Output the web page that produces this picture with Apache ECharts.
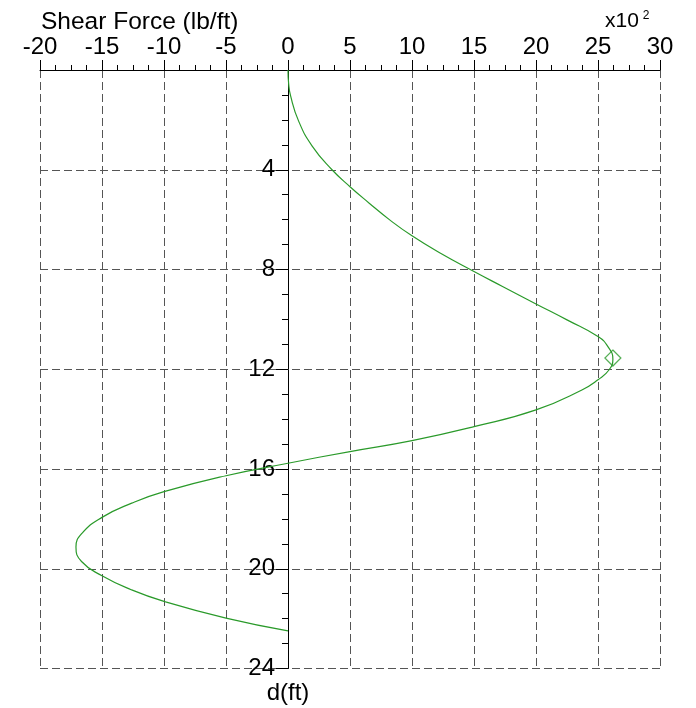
<!DOCTYPE html>
<html>
<head>
<meta charset="utf-8">
<script src="https://cdn.jsdelivr.net/npm/echarts@6/dist/echarts.min.js"></script>
<style>
  html, body { margin: 0; padding: 0; background: #fff; }
  #chart { width: 696px; height: 708px; }
</style>
</head>
<body>
<div id="chart"></div>
<script>
// Depth below the top (ft) and shear force (x100 lb/ft) along the member
const depth = [0, 0.53, 1.04, 2.04, 3.05, 4.0, 4.68, 5.34, 6.01, 6.65, 7.35, 8.08, 8.68, 9.38, 10.02, 10.69, 11.09, 11.6, 12.02, 12.42, 12.83, 13.63, 14.3, 14.86, 15.3, 15.77, 16.27, 16.91, 17.37, 17.94, 18.57, 19.13, 19.71, 20.28, 20.84, 21.31, 21.98, 22.49];
const shear = [0, 0.05, 0.21, 0.85, 1.95, 3.55, 5.0, 6.55, 8.2, 10.0, 12.3, 15.0, 17.3, 20.0, 22.5, 25.0, 25.8, 26.2, 25.9, 25.0, 23.7, 20.0, 15.0, 10.0, 5.0, 0, -5, -10, -12.6, -15, -16.6, -17.1, -16.65, -15, -12.65, -10, -5, 0];

// Peak marker (shear, depth)
const peakShear = [26.2];
const peakDepth = [11.55];

// Axis ranges and ticks
const shearTicks = { min: -20, max: 30, interval: 5 };
const depthTicks = { min: 0, max: 24, interval: 4 };

const FONT = 'Liberation Sans, Arial, sans-serif';
const GREEN = '#2a9a2a';

const GRID = { left: 40, right: 36, top: 70, bottom: 39.5 };
const plotWidth = 696 - GRID.left - GRID.right;
// the depth axis runs along the zero-shear line
const depthAxisOffset = -plotWidth * (0 - shearTicks.min) / (shearTicks.max - shearTicks.min);

const curve = depth.map((d, i) => [shear[i], d]);
const peak = peakDepth.map((d, i) => [peakShear[i], d]);

const chart = echarts.init(document.getElementById('chart'), null, { renderer: 'canvas' });

chart.setOption({
  backgroundColor: '#ffffff',
  animation: false,
  title: {
    text: 'Shear Force (lb/ft)',
    left: 41,
    top: 10,
    padding: 0,
    textStyle: { fontFamily: FONT, fontSize: 24.5, fontWeight: 'normal', color: '#000' }
  },
  graphic: [{
    type: 'text',
    left: 605,
    top: 10,
    style: {
      text: 'x10{s|2}',
      fontFamily: FONT,
      fontSize: 21,
      fill: '#000',
      rich: { s: { fontFamily: FONT, fontSize: 12, verticalAlign: 'top', padding: [0, 0, 10, 4] } }
    }
  }],
  grid: Object.assign({ containLabel: false }, GRID),
  xAxis: {
    type: 'value',
    position: 'top',
    min: shearTicks.min,
    max: shearTicks.max,
    interval: shearTicks.interval,
    axisLine: { show: true, onZero: false, lineStyle: { color: '#000', width: 1 } },
    axisTick: { show: true, length: 10, lineStyle: { color: '#000' } },
    minorTick: { show: true, splitNumber: 4, length: 5, lineStyle: { color: '#000' } },
    axisLabel: { fontFamily: FONT, fontSize: 24, color: '#000', margin: 11 },
    splitLine: { show: true, lineStyle: { color: '#555', type: [8, 4], width: 1 } }
  },
  yAxis: {
    type: 'value',
    position: 'left',
    offset: depthAxisOffset,
    inverse: true,
    min: depthTicks.min,
    max: depthTicks.max,
    interval: depthTicks.interval,
    name: 'd(ft)',
    nameLocation: 'end',
    nameGap: 13,
    nameTextStyle: { fontFamily: FONT, fontSize: 24, color: '#000', verticalAlign: 'top' },
    axisLine: { show: true, onZero: false, lineStyle: { color: '#000', width: 1 } },
    axisTick: { show: true, length: 12, lineStyle: { color: '#000' } },
    minorTick: { show: true, splitNumber: 4, length: 6, lineStyle: { color: '#000' } },
    axisLabel: {
      fontFamily: FONT, fontSize: 24, color: '#000', margin: 13,
      formatter: v => (v === 0 ? '' : String(v))
    },
    splitLine: { show: true, lineStyle: { color: '#555', type: [8, 4], width: 1 } }
  },
  series: [
    {
      type: 'line',
      data: curve,
      smooth: 0.5,
      showSymbol: false,
      lineStyle: { color: GREEN, width: 1.2 },
      z: 3
    },
    {
      type: 'scatter',
      data: peak,
      symbol: 'diamond',
      symbolSize: [16, 16],
      itemStyle: { color: 'rgba(0,0,0,0)', borderColor: GREEN, borderWidth: 1.2 },
      z: 4
    }
  ]
});
</script>
</body>
</html>
